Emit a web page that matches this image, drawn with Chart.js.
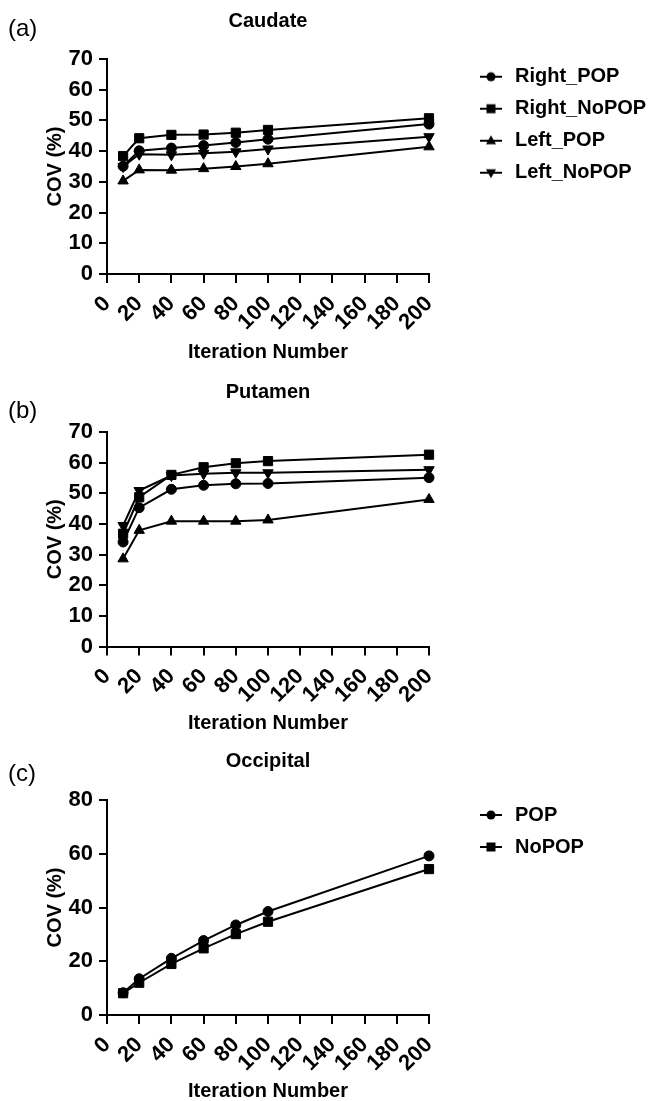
<!DOCTYPE html>
<html>
<head>
<meta charset="utf-8">
<title>COV vs iteration number</title>
<script src="https://cdn.jsdelivr.net/npm/chart.js@4.4.1/dist/chart.umd.min.js"></script>
<style>
  html, body { margin: 0; padding: 0; background: #fff; }
  body { width: 650px; height: 1101px; position: relative; overflow: hidden;
         font-family: "Liberation Sans", Arial, sans-serif; }
  .panel { position: absolute; left: 0; }
  .panel canvas { display: block; }
  .tag { position: absolute; left: 8px; font-size: 24px; line-height: 24px; color: #000; }
</style>
</head>
<body>
<div class="panel" style="top:0"><canvas id="caudate" width="650" height="370"></canvas></div>
<div class="panel" style="top:371px"><canvas id="putamen" width="650" height="369"></canvas></div>
<div class="panel" style="top:740px"><canvas id="occipital" width="650" height="361"></canvas></div>
<div class="tag" style="top:16px">(a)</div>
<div class="tag" style="top:398px">(b)</div>
<div class="tag" style="top:761px">(c)</div>

<script>
  "use strict";

  // iteration numbers on the x axis
  var iterations = [10, 20, 40, 60, 80, 100, 200];

  // (a) Caudate
  var caudateRightPOP   = [35.1, 40.1, 41.0, 41.8, 42.8, 43.9, 48.8];
  var caudateRightNoPOP = [38.4, 44.2, 45.3, 45.4, 46.0, 46.9, 50.7];
  var caudateLeftPOP    = [30.3, 33.9, 33.8, 34.3, 35.0, 35.9, 41.4];
  var caudateLeftNoPOP  = [35.0, 39.0, 38.8, 39.3, 39.8, 40.7, 44.7];

  // (b) Putamen
  var putamenRightPOP   = [34.1, 45.3, 51.3, 52.6, 53.1, 53.2, 55.1];
  var putamenRightNoPOP = [36.8, 48.7, 56.0, 58.5, 59.8, 60.5, 62.6];
  var putamenLeftPOP    = [28.6, 37.9, 40.9, 40.9, 40.9, 41.3, 48.0];
  var putamenLeftNoPOP  = [39.5, 50.9, 55.8, 56.4, 56.7, 56.7, 57.7];

  // (c) Occipital
  var occipitalPOP   = [8.3, 13.5, 21.1, 27.7, 33.5, 38.5, 59.2];
  var occipitalNoPOP = [8.1, 12.0, 19.0, 24.8, 30.1, 34.7, 54.3];

  var black = '#000';
  var family = "'Liberation Sans', Arial, Helvetica, sans-serif";
  var boldFont = { family: family, size: 20, weight: 'bold', lineHeight: 1.2 };
  var tickFont = { family: family, size: 22, weight: 'bold', lineHeight: 1.2 };

  var circle  = { shape: 'circle',   radius: 5 };
  var square  = { shape: 'rect',     radius: 6.5 };
  var triUp   = { shape: 'triangle', radius: 6, rotation: 0 };
  var triDown = { shape: 'triangle', radius: 6, rotation: 180 };

  var series = function(label, values, marker) {
    return {
      label: label,
      data: iterations.map(function(x, i) { return { x: x, y: values[i] }; }),
      marker: marker,
      borderColor: black,
      backgroundColor: black,
      borderWidth: 2,
      pointStyle: marker.shape,
      pointRotation: marker.rotation || 0,
      pointRadius: marker.radius,
      pointBorderColor: black,
      pointBackgroundColor: black,
      pointBorderWidth: 1,
      tension: 0,
      clip: false
    };
  };

  // small legend icon: a line with the series marker in the middle
  var legendIcon = function(marker) {
    var c = document.createElement('canvas');
    c.width = 22; c.height = 14;
    var g = c.getContext('2d');
    g.fillStyle = black; g.strokeStyle = black; g.lineWidth = 2;
    g.beginPath(); g.moveTo(0, 7); g.lineTo(22, 7); g.stroke();
    g.beginPath();
    if (marker.shape === 'circle') {
      g.arc(11, 7, 4.5, 0, Math.PI * 2);
    } else if (marker.shape === 'rect') {
      g.rect(6.5, 2.5, 9, 9);
    } else {
      var d = marker.rotation ? -1 : 1;
      g.moveTo(11, 7 - 5.5 * d);
      g.lineTo(16, 7 + 3.5 * d);
      g.lineTo(6, 7 + 3.5 * d);
      g.closePath();
    }
    g.fill();
    return c;
  };

  var legendItems = function(chart) {
    return chart.data.datasets.map(function(ds, i) {
      return {
        text: ds.label,
        pointStyle: legendIcon(ds.marker),
        rotation: 0,
        fillStyle: black,
        strokeStyle: black,
        fontColor: black,
        lineWidth: 0,
        hidden: false,
        datasetIndex: i
      };
    });
  };

  // put the legend block where the figure has it, away from the plot
  var placeLegend = {
    id: 'placeLegend',
    afterLayout: function(chart, args, opts) {
      var lg = chart.legend;
      if (!lg || opts.left === undefined) return;
      var h = lg.bottom - lg.top;
      lg.left = opts.left; lg.right = chart.width;
      lg.width = lg.right - lg.left;
      lg.top = opts.top; lg.bottom = opts.top + h;
    }
  };

  var initPanel = function(id, title, datasets, yMax, yStep, L) {
    return new Chart(id, {
      type: 'line',
      data: { datasets: datasets },
      options: {
        responsive: false,
        animation: false,
        // legend box is held at 60px wide, so the plot ends at x=429 either way
        layout: { padding: { left: 0, top: 0, bottom: 0, right: L.legend ? 161 : 221 } },
        plugins: {
          title: {
            display: true,
            text: title,
            fullSize: false,
            color: black,
            font: boldFont,
            padding: { top: L.titleTop, bottom: L.titleBottom }
          },
          legend: {
            display: !!L.legend,
            position: 'right',
            align: 'start',
            fullSize: false,
            maxWidth: 60,
            labels: {
              usePointStyle: true,
              pointStyleWidth: 28,
              padding: 12,
              color: black,
              font: { family: family, size: 20, weight: 'bold' },
              generateLabels: legendItems
            }
          },
          tooltip: { enabled: false },
          placeLegend: L.legend || {}
        },
        scales: {
          x: {
            type: 'linear',
            min: 0,
            max: 200,
            afterFit: function(s) { s.height = L.xAxisHeight; },
            border: { display: true, color: black, width: 2 },
            grid: { drawOnChartArea: false, drawTicks: true, tickLength: 9, color: black, lineWidth: 2 },
            ticks: { stepSize: 20, autoSkip: false, minRotation: 45, maxRotation: 45,
                     padding: 8, color: black, font: tickFont },
            title: {
              display: true,
              text: 'Iteration Number',
              color: black,
              font: { family: family, size: 20, weight: 'bold', lineHeight: 1 },
              padding: { top: 0, bottom: L.xTitlePad }
            }
          },
          y: {
            min: 0,
            max: yMax,
            afterFit: function(s) { s.width = 107; },
            border: { display: true, color: black, width: 2 },
            grid: { drawOnChartArea: false, drawTicks: true, tickLength: 8, color: black, lineWidth: 2 },
            ticks: { stepSize: yStep, padding: 6, color: black, font: tickFont },
            title: {
              display: true,
              text: 'COV (%)',
              color: black,
              font: { family: family, size: 20, weight: 'bold', lineHeight: 1 },
              padding: { top: 45, bottom: 0 }
            }
          }
        }
      },
      plugins: [placeLegend]
    });
  };

  initPanel('caudate', 'Caudate', [
    series('Right_POP', caudateRightPOP, circle),
    series('Right_NoPOP', caudateRightNoPOP, square),
    series('Left_POP', caudateLeftPOP, triUp),
    series('Left_NoPOP', caudateLeftNoPOP, triDown)
  ], 70, 10, { titleTop: 9, titleBottom: 26, xAxisHeight: 96, xTitlePad: 8,
               legend: { left: 465, top: 54.7 } });

  initPanel('putamen', 'Putamen', [
    series('Right_POP', putamenRightPOP, circle),
    series('Right_NoPOP', putamenRightNoPOP, square),
    series('Left_POP', putamenLeftPOP, triUp),
    series('Left_NoPOP', putamenLeftNoPOP, triDown)
  ], 70, 10, { titleTop: 9, titleBottom: 28, xAxisHeight: 93.5, xTitlePad: 7, legend: null });

  initPanel('occipital', 'Occipital', [
    series('POP', occipitalPOP, circle),
    series('NoPOP', occipitalNoPOP, square)
  ], 80, 20, { titleTop: 9, titleBottom: 27, xAxisHeight: 86, xTitlePad: 0,
               legend: { left: 465, top: 53 } });
</script>
</body>
</html>
